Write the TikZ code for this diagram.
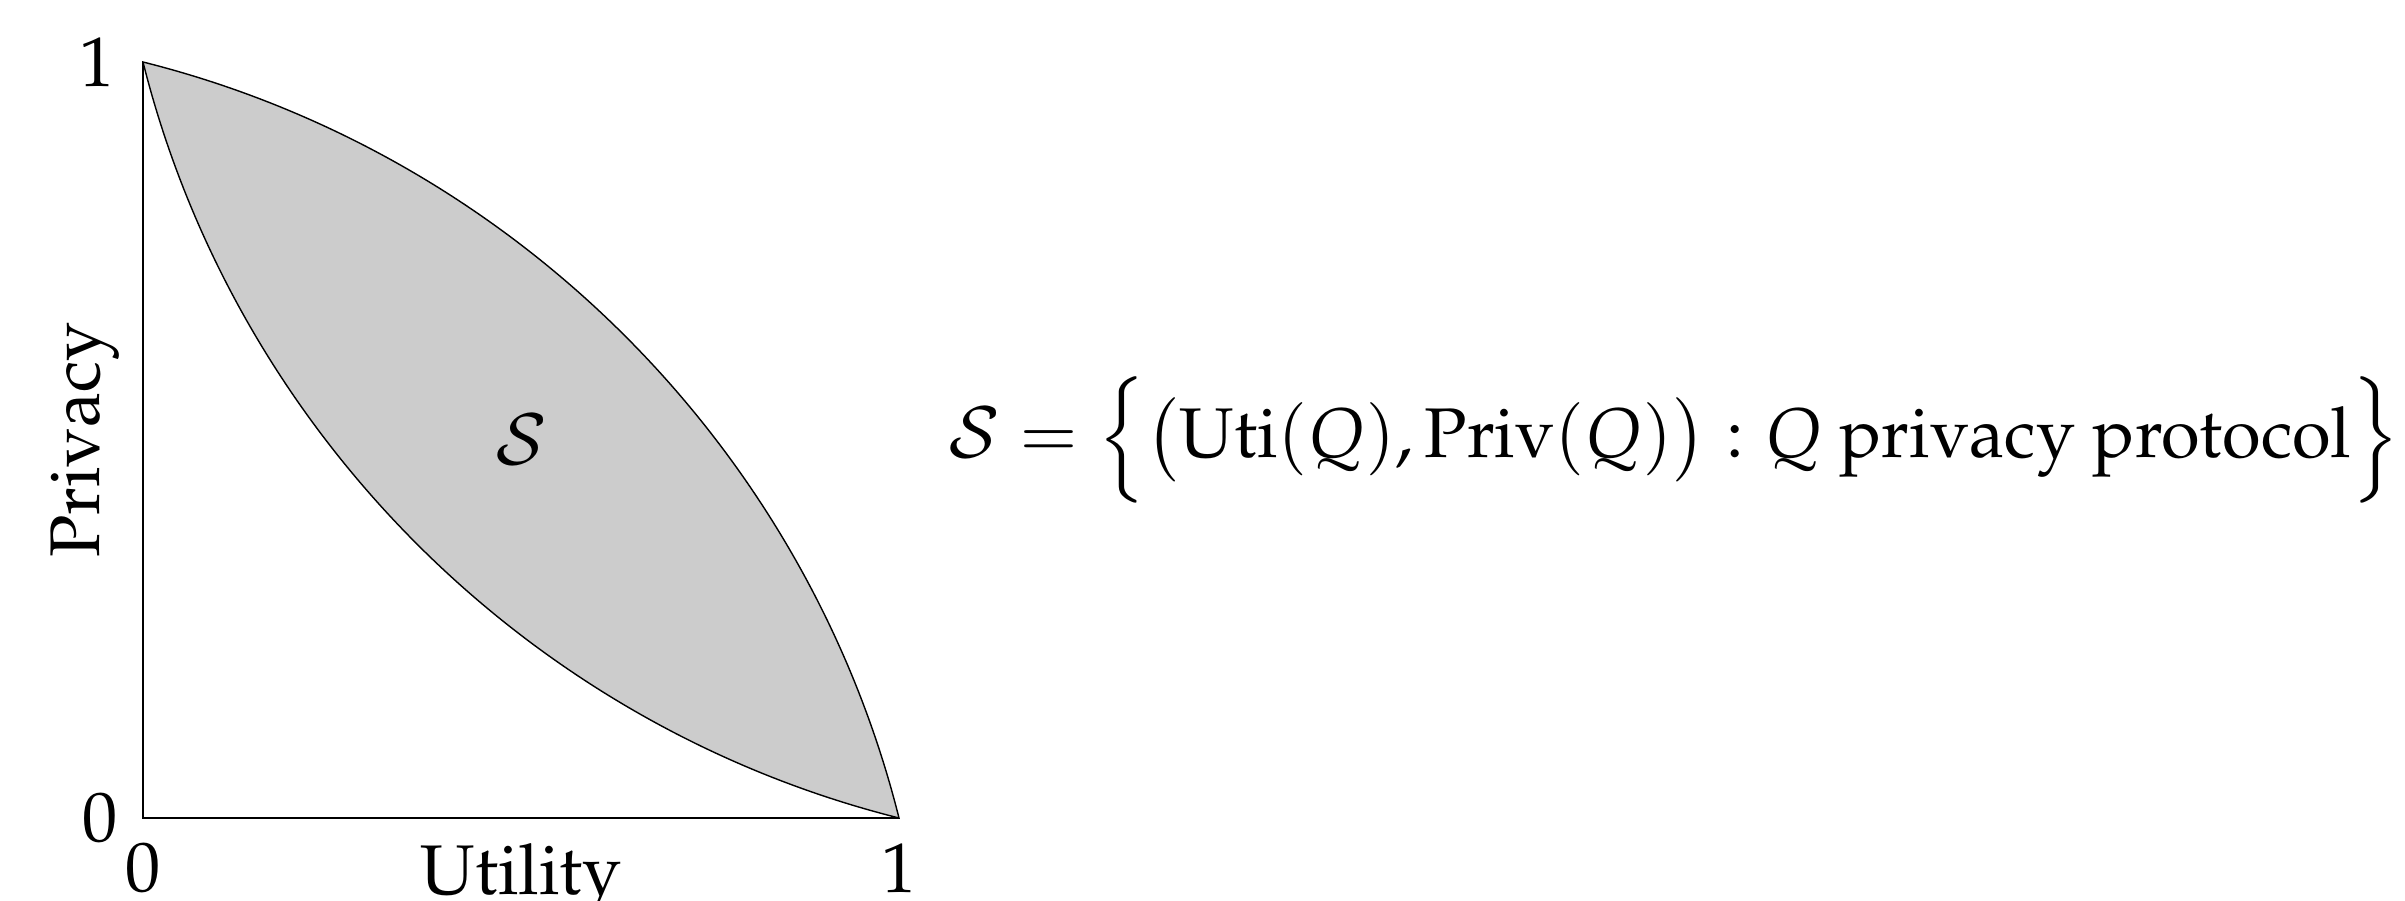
\documentclass[tikz,border=0pt]{standalone}
\usepackage[T1]{fontenc}
\usepackage{mathpazo}
\usepackage{amsmath}
\usetikzlibrary{positioning}
\tikzset{
  axis/.style={draw=black,line width=.5pt},
  region/.style={draw=black,fill=gray!40,line width=.4pt},
  tick/.style={font=\fontsize{20}{24}\selectfont,inner sep=0pt},
  lab/.style={font=\fontsize{20}{24}\selectfont,inner sep=0pt},
}
\begin{document}
\begin{tikzpicture}[x=7.56cm,y=7.56cm]
    \useasboundingbox (-1.43cm,-0.82cm) rectangle (22.62cm,8.18cm);
    \coordinate (O) at (0,0);
    \coordinate (T) at (0,1);
    \coordinate (R) at (1,0);
    \coordinate (M) at (0.5,0);
    \coordinate (L) at (0,0.5);
    % achievable region between the two boundary curves
    \draw[region] (T) .. controls (0.49,0.877) and (0.877,0.49) .. (R)
                      .. controls (0.51,0.123) and (0.123,0.51) .. (T) -- cycle;
    \draw[axis] (T) -- (O) -- (R);

    \node[tick,left=0.28cm of T] (y1) {1};
    \node[tick,left=0.25cm of O] (y0) {0};
    \node[tick,below=0.24cm of O] (x0) {0};
    \node[tick,below=0.25cm of R] (x1) {1};
    \node[lab,below=0.25cm of M] (util) {Utility};
    \node[lab,rotate=90,anchor=south] (priv) at ([xshift=-0.23cm]L) {Privacy};

    \node[lab] (S) at (0.5,0.5) {$\mathcal{S}$};
    \node[lab,right=4cm of S] (def)
      {$\mathcal{S} = \Big\{ \big(\mathrm{Uti}(Q), \mathrm{Priv}(Q)\big) : Q \text{ privacy protocol} \Big\}$};
\end{tikzpicture}
\end{document}
